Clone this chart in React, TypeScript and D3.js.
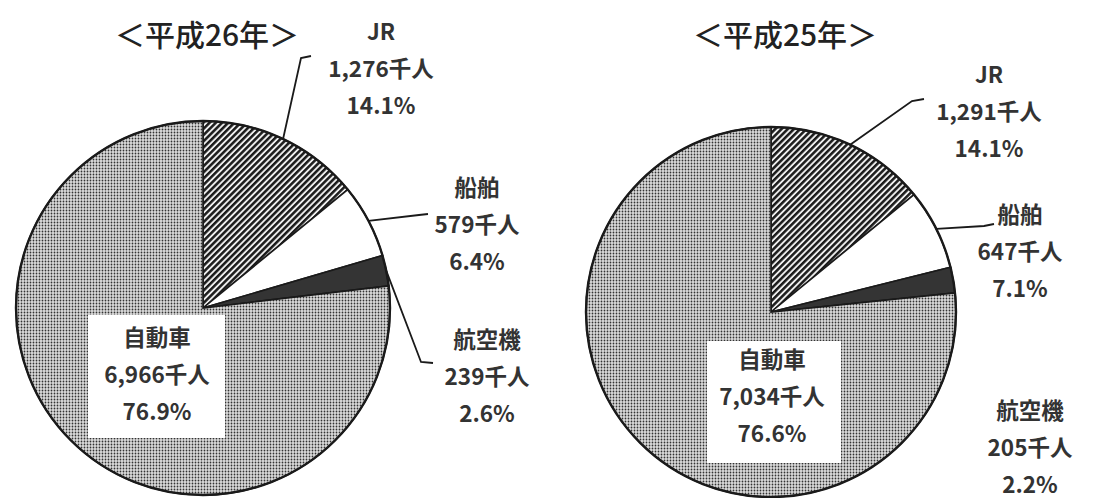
import React from "react";
import * as d3 from "d3";

const categories = ["JR", "船舶", "航空機", "自動車"];
const titles = ["＜平成26年＞", "＜平成25年＞"];
const valuesH26 = [1276, 579, 239, 6966];
const sharesH26 = ["14.1%", "6.4%", "2.6%", "76.9%"];
const valuesH25 = [1291, 647, 205, 7034];
const sharesH25 = ["14.1%", "7.1%", "2.2%", "76.6%"];

const fmt = d3.format(",");
const FONT = "'Noto Sans CJK JP', 'Noto Sans', sans-serif";

type LabelPos = { x: number; y: number; leader?: [number, number][] };
type ChartLayout = {
  cx: number;
  cy: number;
  r: number;
  title: { x: number; y: number };
  labels: LabelPos[];
  box: { x: number; y: number; w: number; h: number };
};

const layouts: ChartLayout[] = [
  {
    cx: 203,
    cy: 308,
    r: 187,
    title: { x: 207, y: 46 },
    labels: [
      { x: 381, y: 40, leader: [[301, 58], [311, 56]] },
      { x: 477, y: 196, leader: [[419, 215], [428, 214]] },
      { x: 487, y: 348, leader: [[421, 362], [433, 363]] },
      { x: 157, y: 346 },
    ],
    box: { x: 88, y: 315, w: 137, h: 123 },
  },
  {
    cx: 771,
    cy: 312,
    r: 185,
    title: { x: 785, y: 46 },
    labels: [
      { x: 989, y: 83, leader: [[912, 101], [924, 99]] },
      { x: 1020, y: 223, leader: [[984, 226], [994, 224]] },
      { x: 1030, y: 419 },
      { x: 772, y: 368 },
    ],
    box: { x: 707, y: 341, w: 134, h: 122 },
  },
];

const datasets = [
  { values: valuesH26, shares: sharesH26 },
  { values: valuesH25, shares: sharesH25 },
];

const LINE = 37;

function PieChart({ idx }: { idx: number }) {
  const L = layouts[idx];
  const { values, shares } = datasets[idx];
  const data = categories.map((c, i) => ({ c, v: values[i], s: shares[i], i }));
  const pie = d3.pie<any>().sort(null).value((d: any) => d.v);
  const arcs = pie(data);
  const arc = d3.arc<any>().innerRadius(0).outerRadius(L.r);
  const fills = [`url(#hatch${idx})`, "#ffffff", "#343434", `url(#dots${idx})`];

  return (
    <g>
      <defs>
        <pattern id={`hatch${idx}`} width={4.4} height={4.4} patternUnits="userSpaceOnUse" patternTransform="rotate(-45)">
          <rect width={4.4} height={4.4} fill="#eeeeee" />
          <rect width={4.4} height={2.5} fill="#1a1a1a" />
        </pattern>
        <pattern id={`dots${idx}`} width={3} height={3} patternUnits="userSpaceOnUse">
          <rect width={3} height={3} fill="#dcdcdc" />
          <circle cx={1.5} cy={1.5} r={0.9} fill="#333333" />
        </pattern>
      </defs>
      <text x={L.title.x} y={L.title.y} textAnchor="middle" fontSize={30} fontFamily={FONT} fontWeight={500} fill="#222">
        {titles[idx]}
      </text>
      <g transform={`translate(${L.cx},${L.cy})`}>
        {arcs.map((a, i) => (
          <path key={i} d={arc(a) as string} fill={fills[i]} stroke="#1a1a1a" strokeWidth={1.6} />
        ))}
        <circle r={L.r} fill="none" stroke="#1a1a1a" strokeWidth={2.4} />
      </g>
      {arcs.map((a, i) => {
        const lp = L.labels[i];
        if (!lp.leader) return null;
        const mid = (a.startAngle + a.endAngle) / 2;
        const sx = L.cx + L.r * Math.sin(mid);
        const sy = L.cy - L.r * Math.cos(mid);
        const pts: [number, number][] = [[sx, sy], ...lp.leader];
        return (
          <path key={"l" + i} d={d3.line()(pts) as string} fill="none" stroke="#1a1a1a" strokeWidth={1.8} />
        );
      })}
      <rect x={L.box.x} y={L.box.y} width={L.box.w} height={L.box.h} fill="#ffffff" />
      {data.map((d, i) => {
        const lp = L.labels[i];
        const lines = [d.c, `${fmt(d.v)}千人`, d.s];
        return (
          <text key={"t" + i} textAnchor="middle" fontSize={22.5} fontFamily={FONT} fontWeight={700} fill="#333">
            {lines.map((t, j) => (
              <tspan key={j} x={lp.x} y={lp.y + j * LINE}>
                {t}
              </tspan>
            ))}
          </text>
        );
      })}
    </g>
  );
}

export default function App() {
  return (
    <svg width={1097} height={498} style={{ position: "absolute", left: 0, top: 0, background: "#fff" }}>
      <rect width={1097} height={498} fill="#ffffff" />
      <PieChart idx={0} />
      <PieChart idx={1} />
    </svg>
  );
}
